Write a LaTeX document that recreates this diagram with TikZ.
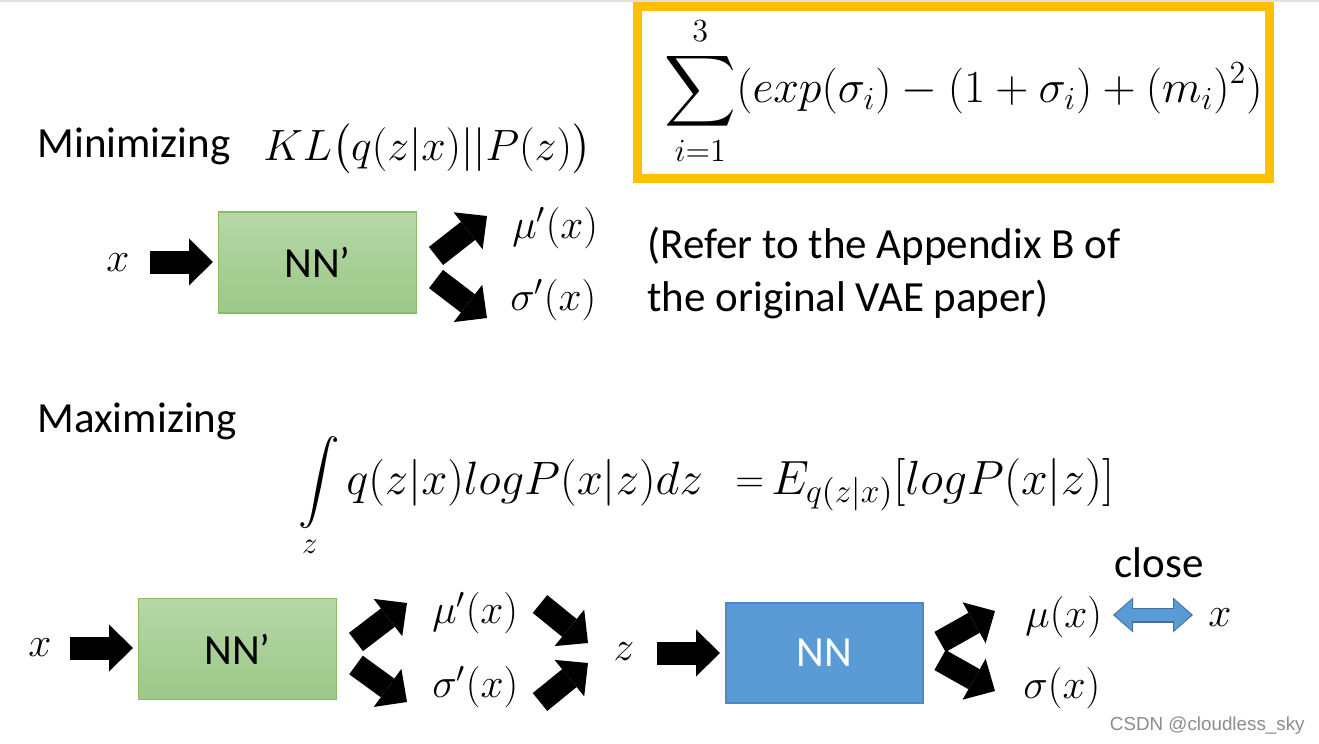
\RequirePackage{fix-cm}
\documentclass[tikz,border=0pt]{standalone}
\usepackage{amsmath}
\usepackage{fontspec}
\setmainfont{Carlito}
\newfontfamily\wmfont{Liberation Sans}
\usetikzlibrary{arrows.meta}
\definecolor{gold}{HTML}{FFC000}
\definecolor{gtop}{HTML}{B6D7A8}
\definecolor{gbot}{HTML}{9CC887}
\definecolor{gedge}{HTML}{86BD66}
\definecolor{nnblue}{HTML}{5B9BD5}
\definecolor{nnedge}{HTML}{4A8AC6}
\definecolor{dblfill}{HTML}{5B9BD5}
\definecolor{dbledge}{HTML}{41719C}
\definecolor{wmgray}{HTML}{8C8C8C}
\begin{document}
\begin{tikzpicture}[x=0.5pt,y=-0.5pt,
  lbl/.style={font=\fontsize{21.5}{26}\selectfont, inner sep=0pt},
  mth/.style={font=\fontsize{20.7}{25}\selectfont, inner sep=0pt},
  greenbox/.style={draw=gedge, line width=0.8pt, top color=gtop, bottom color=gbot,
    minimum width=99pt, minimum height=50.5pt, font=\fontsize{21.5}{26}\selectfont, inner sep=0pt},
  bluebox/.style={draw=nnedge, line width=0.8pt, fill=nnblue, text=white,
    minimum width=98.5pt, minimum height=50pt, font=\fontsize{21.5}{26}\selectfont, inner sep=0pt},
  blk/.style={line width=11.5pt, black, -{Triangle[width=23.5pt,length=12pt,line width=0pt]}},
]
\useasboundingbox (0,0) rectangle (1319,744);
\fill[white] (0,0) rectangle (1319,744);
\draw[black!12, line width=0.6pt] (0,1) -- (1319,1);

% KL box
\node[draw=gold, line width=4.5pt, minimum width=316pt, minimum height=86pt, inner sep=0pt] (kbox) at (953,92) {};
\node[mth, font=\fontsize{23}{28}\selectfont, anchor=west] (ksum) at (664,91) {$\displaystyle\sum_{i=1}^{3}(exp(\sigma_i)-(1+\sigma_i)+(m_i)^2)$};

% Minimizing
\node[lbl, anchor=base west] (mini) at (37,157) {Minimizing};
\node[mth, font=\fontsize{21.9}{27}\selectfont, anchor=base west] (kl) at (263,160) {$KL\bigl(q(z|x)||P(z)\bigr)$};

% top row
\node[mth] (xa) at (118,263) {$x$};
\node[greenbox] (nna) at (317.5,262.5) {NN’};
\node[mth, anchor=west] (mua) at (512,228) {$\mu'(x)$};
\node[mth, anchor=west] (siga) at (510,300) {$\sigma'(x)$};
\coordinate (a1s) at (150,262); \coordinate (a1e) at (213,262);
\coordinate (a2s) at (436,256); \coordinate (a2e) at (487,216);
\coordinate (a3s) at (436,279); \coordinate (a3e) at (487,318);
\draw[blk] (a1s) -- (a1e);
\draw[blk] (a2s) -- (a2e);
\draw[blk] (a3s) -- (a3e);

\node[lbl, anchor=base west] (ref1) at (647,258) {(Refer to the Appendix B of};
\node[lbl, anchor=base west] (ref2) at (647,311) {the original VAE paper)};

% Maximizing
\node[lbl, anchor=base west] (maxi) at (37,432) {Maximizing};
\node[mth, font=\fontsize{22}{27}\selectfont, anchor=base west] (intz) at (298,494) {$\displaystyle\int\limits_{z}$};
\node[mth, font=\fontsize{23.4}{28}\selectfont, anchor=base west] (intq) at (346,494) {$q(z|x)logP(x|z)dz$};
\node[mth, font=\fontsize{20}{24}\selectfont, anchor=base west] (eqs) at (735,492) {$=$};
\node[mth, font=\fontsize{24}{29}\selectfont, anchor=base west] (expE) at (771,494) {$E_{q(z|x)}[logP(x|z)]$};

% bottom row
\node[mth] (xb) at (40,648) {$x$};
\node[greenbox] (nnb) at (237.5,649) {NN’};
\node[mth, anchor=west] (mub) at (432,613) {$\mu'(x)$};
\node[mth, anchor=west] (sigb) at (432,687) {$\sigma'(x)$};
\node[mth] (zb) at (624,652) {$z$};
\node[bluebox] (nnc) at (824.5,653) {NN};
\node[mth, anchor=west] (muc) at (1025,617) {$\mu(x)$};
\node[mth, anchor=west] (sigc) at (1023,688) {$\sigma(x)$};
\node[mth] (xc) at (1220,618) {$x$};
\node[lbl] (close) at (1159,563) {close};

\coordinate (b1s) at (70,648);  \coordinate (b1e) at (133,648);
\coordinate (b2s) at (356,642); \coordinate (b2e) at (407,603);
\coordinate (b3s) at (356,665); \coordinate (b3e) at (407,702);
\coordinate (b4s) at (540,604); \coordinate (b4e) at (588,643);
\coordinate (b5s) at (540,702); \coordinate (b5e) at (588,663);
\coordinate (b6s) at (657,653); \coordinate (b6e) at (720,653);
\coordinate (b7s) at (940,642); \coordinate (b7e) at (995,611);
\coordinate (b8s) at (940,660); \coordinate (b8e) at (995,691);
\foreach \n in {1,...,8} {\draw[blk] (b\n s) -- (b\n e);}

% double arrow
\coordinate (d1) at (1113,615); \coordinate (d2) at (1193,615);
\draw[line width=7.5pt, dbledge, {Triangle[width=17.5pt,length=10pt,line width=0pt]}-{Triangle[width=17.5pt,length=10pt,line width=0pt]}] (d1) -- (d2);
\draw[line width=6.2pt, dblfill, shorten <=0.9pt, shorten >=0.9pt, {Triangle[width=15.5pt,length=8.6pt,line width=0pt]}-{Triangle[width=15.5pt,length=8.6pt,line width=0pt]}] (d1) -- (d2);

% watermark
\node[font=\wmfont\fontsize{9.4}{11}\selectfont, text=wmgray, anchor=base east, inner sep=0pt] (wm) at (1305,730) {CSDN @cloudless\_sky};
\end{tikzpicture}
\end{document}
